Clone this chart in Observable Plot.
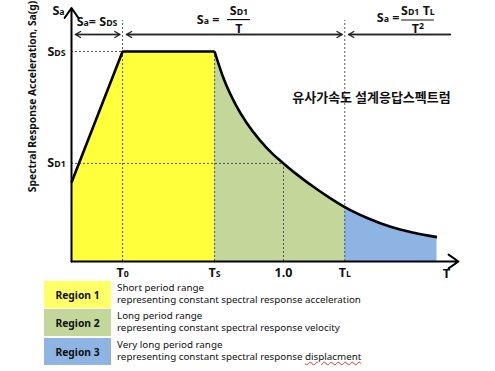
<!DOCTYPE html>
<html>
<head>
<meta charset="utf-8">
<script src="https://cdn.jsdelivr.net/npm/d3@7"></script>
<script src="https://cdn.jsdelivr.net/npm/@observablehq/plot@0.6"></script>
<style>
  body { margin: 0; background: #fff; font-family: "Noto Sans", "Noto Sans CJK KR", sans-serif; }
  #wrap { position: relative; width: 495px; height: 371px; overflow: hidden; }
  .row { position: absolute; left: 0; }
  .box { position: absolute; left: 44px; width: 67px; height: 27px; display: flex; align-items: center; justify-content: center; font-size: 10.3px; font-weight: bold; color: #111; }
  .desc { position: absolute; left: 117px; font-size: 9.8px; line-height: 11.6px; color: #111; white-space: nowrap; }
  .typo { text-decoration: underline wavy #d33; text-decoration-thickness: 1px; }
</style>
</head>
<body>
<div id="wrap"><div id="chart"></div><div id="legend"></div></div>
<script>
// ---- data (T in units where 1.0 is marked; Sa in units of S_DS) ----
const riseT  = [0, 0.241, 0.675];
const riseSa = [0.376, 1.0, 1.0];
const decayT  = [0.675, 0.718, 0.778, 0.825, 0.888, 0.951, 1.0, 1.061, 1.156, 1.218, 1.289, 1.395, 1.505, 1.615, 1.724];
const decaySa = [1.0, 0.870, 0.740, 0.662, 0.578, 0.510, 0.467, 0.416, 0.345, 0.303, 0.259, 0.207, 0.165, 0.137, 0.116];
const keyNames  = ["T_{0}", "T_{S}", "1.0", "T_{L}"];
const keyValues = [0.241, 0.675, 1.0, 1.289];
const SDS = 1.0, SD1 = 0.467;
const regionNames  = ["Region 1", "Region 2", "Region 3"];
const regionColors = ["#ffff3c", "#c4d79b", "#8db4e2"];
const legendColors = ["#ffff66", "#c4d79b", "#8db4e2"];
const regionLine1  = ["Short period range", "Long period range", "Very long period range"];
const regionLine2  = ["representing constant spectral  response acceleration",
                      "representing constant spectral  response velocity",
                      "representing constant spectral  response <span class='typo'>displacment</span>"];

const [T0, TS, T1, TL] = keyValues;
const rise  = riseT.map((T, i) => ({T, Sa: riseSa[i]}));
const decay = decayT.map((T, i) => ({T, Sa: decaySa[i]}));
const ticks = keyNames.map((name, i) => ({name, T: keyValues[i]}));

// top range arrows
const arrowY = 1.081, topY = 1.148, inset = 0.012;
const spans = [
  {from: 0,  to: T0, both: true},
  {from: T0, to: TL, both: true},
  {from: TL, to: 1.80, both: false}
];
const arrowSegs = [];
for (const s of spans) {
  const a = s.from + inset * 1.5, b = s.to - inset;
  if (s.both) {
    const m = (a + b) / 2;
    arrowSegs.push({x1: m, y1: arrowY, x2: a, y2: arrowY}, {x1: m, y1: arrowY, x2: b, y2: arrowY});
  } else {
    arrowSegs.push({x1: b, y1: arrowY, x2: a, y2: arrowY});
  }
}
const axisSegs = [
  {x1: 0, y1: 0, x2: 1.825, y2: 0},
  {x1: 0, y1: 0, x2: 0, y2: 1.207}
];

const font = "'Noto Sans', 'Noto Sans CJK KR', sans-serif";
const bold = {fontSize: 12.5, fontWeight: "bold"};
const seg = {x1: "x1", y1: "y1", x2: "x2", y2: "y2"};
const chart = Plot.plot({
  width: 495, height: 278,
  marginLeft: 71, marginRight: 0, marginTop: 9, marginBottom: 17,
  x: {domain: [0, 2], axis: null},
  y: {domain: [0, 1.2], axis: null},
  style: {fontFamily: font, background: "transparent", overflow: "visible", color: "#111"},
  marks: [
    Plot.areaY(rise, {x: "T", y: "Sa", fill: regionColors[0]}),
    Plot.areaY(decay.filter(d => d.T <= TL), {x: "T", y: "Sa", fill: regionColors[1], curve: "monotone-x"}),
    Plot.areaY(decay.filter(d => d.T >= TL), {x: "T", y: "Sa", fill: regionColors[2], curve: "monotone-x"}),
    // reference dotted lines
    Plot.ruleX([T0], {y1: 0, y2: topY, stroke: "#555", strokeDasharray: "2,2", strokeWidth: 1}),
    Plot.ruleX([TS], {y1: 0, y2: SDS, stroke: "#555", strokeDasharray: "2,2", strokeWidth: 1}),
    Plot.ruleX([T1], {y1: 0, y2: SD1, stroke: "#555", strokeDasharray: "2,2", strokeWidth: 1}),
    Plot.ruleX([TL], {y1: 0, y2: topY, stroke: "#555", strokeDasharray: "2,2", strokeWidth: 1}),
    Plot.ruleY([SDS], {x1: 0, x2: T0, stroke: "#555", strokeDasharray: "2,2", strokeWidth: 1}),
    Plot.ruleY([SD1], {x1: 0, x2: T1, stroke: "#555", strokeDasharray: "2,2", strokeWidth: 1}),
    // spectrum curve
    Plot.line(rise, {x: "T", y: "Sa", stroke: "#000", strokeWidth: 2.6, strokeLinejoin: "miter", strokeLinecap: "butt"}),
    Plot.line(decay, {x: "T", y: "Sa", stroke: "#000", strokeWidth: 2.6, curve: "monotone-x", strokeLinecap: "butt"}),
    // fraction bars
    Plot.ruleY([1.152], {x1: 0.736, x2: 0.844, stroke: "#111", strokeWidth: 1.2}),
    Plot.ruleY([1.150], {x1: 1.557, x2: 1.712, stroke: "#111", strokeWidth: 1.2}),
    // tick labels
    Plot.text(ticks, {x: "T", y: 0, text: "name", dy: 11, fontSize: 12.5, fontWeight: "bold"}),
    Plot.text(["T"], {x: 1.769, y: 0, dy: 12, fontSize: 13, fontWeight: "bold"}),
    // y labels
    Plot.text(["S_{DS}", "S_{D1}"], {x: 0, y: [SDS, SD1], dx: -15, ...bold}),
    Plot.text(["S_{a}"], {x: 0, y: 1.195, dx: -13, ...bold}),
    Plot.text(["Spectral Response Acceleration, Sa(g)"], {x: 0, y: 0.786, dx: -39, rotate: -90, fontSize: 10.3, fontWeight: "bold"}),
    // formulas
    Plot.text(["S_{a}= S_{DS}"], {x: T0 / 2, y: 1.140, ...bold}),
    Plot.text(["S_{a} ="], {x: 0.644, y: 1.148, ...bold}),
    Plot.text(["S_{D1}"], {x: 0.790, y: 1.192, ...bold}),
    Plot.text(["T"], {x: 0.790, y: 1.108, ...bold}),
    Plot.text(["S_{a} ="], {x: 1.493, y: 1.160, ...bold}),
    Plot.text(["S_{D1} T_{L}"], {x: 1.634, y: 1.192, ...bold}),
    Plot.text(["T^{2}"], {x: 1.634, y: 1.108, ...bold}),
    // Korean title
    Plot.text(["유사가속도 설계응답스펙트럼"], {x: 1.415, y: 0.781, fontSize: 13, fontWeight: "bold", fontFamily: "'Noto Sans CJK KR', sans-serif"}),
    // axes
    Plot.arrow(axisSegs, {...seg, stroke: "#000", strokeWidth: 2, headLength: 9, headAngle: 70}),
    // range arrows (drawn last)
    Plot.link(arrowSegs, {...seg, stroke: "#222", strokeWidth: 1.3}),
    Plot.arrow(arrowSegs, {...seg, stroke: "#222", strokeWidth: 1.3, headLength: 7, headAngle: 60})
  ]
});

// turn _{..} / ^{..} into small tspans
d3.select(chart).selectAll("text").each(function () {
  const s = this.textContent;
  if (!/[_^]\{/.test(s)) return;
  const el = d3.select(this);
  el.text(null);
  const re = /([_^])\{([^}]*)\}|([^_^]+)/g;
  let m, raised = false;
  while ((m = re.exec(s))) {
    if (m[3]) { el.append("tspan").attr("dy", raised ? "0.45em" : null).text(m[3]); raised = false; }
    else if (m[1] === "_") { el.append("tspan").attr("font-size", "70%").attr("dy", raised ? "0.45em" : null).text(m[2]); raised = false; }
    else { el.append("tspan").attr("font-size", "70%").attr("dy", "-0.45em").text(m[2]); raised = true; }
  }
});
document.getElementById("chart").appendChild(chart);

// legend
const tops = [281, 309, 338];
const legend = document.getElementById("legend");
regionNames.forEach((name, i) => {
  const row = document.createElement("div");
  row.className = "row";
  row.style.top = tops[i] + "px";
  row.innerHTML = `<div class="box" style="background:${legendColors[i]}">${name}</div>` +
    `<div class="desc" style="top:1px">${regionLine1[i]}<br>${regionLine2[i]}</div>`;
  legend.appendChild(row);
});
</script>
</body>
</html>
